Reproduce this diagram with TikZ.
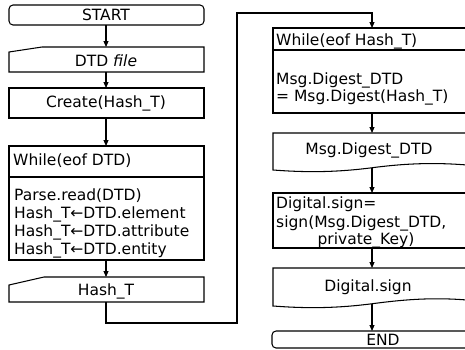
\documentclass[tikz,border=0pt]{standalone}
\usepackage{fontspec}
\setmainfont{DejaVu Sans}
\usetikzlibrary{arrows.meta}
\begin{document}
\begin{tikzpicture}[x=1pt,y=-1pt,
  box/.style={draw=black,line width=1.05pt},
  flow/.style={draw=black,line width=1.05pt,-{Triangle[length=6pt,width=5pt]}},
  txt/.style={inner sep=0pt,font=\fontsize{15.5}{18}\selectfont},
  lbl/.style={txt,anchor=west}]
\useasboundingbox (0,0) rectangle (465,349);
% left column
\draw[box,rounded corners=4pt] (9,5) rectangle (204,25);
\node[txt] (start) at (106,15) {START};
\coordinate (startb) at (106,25);

\draw[box] (9,72) -- (9,52) -- (42,47) -- (204,47) -- (204,72) -- cycle;
\node[txt] (dtd) at (106,61) {DTD \textit{file}};
\coordinate (dtdt) at (106,47);
\coordinate (dtdb) at (106,72);

\draw[box] (9,88) rectangle (204,118);
\node[txt] (create) at (106,103) {Create(Hash\_T)};
\coordinate (createt) at (106,88);
\coordinate (createb) at (106,118);

\draw[box] (9,146) rectangle (204,260);
\draw[box] (9,177) -- (204,177);
\node[lbl] (w1) at (13,161) {While(eof DTD)};
\node[lbl] (b1) at (14,196) {Parse.read(DTD)};
\node[lbl] (b2) at (14,214) {Hash\_T←DTD.element};
\node[lbl] (b3) at (14,232) {Hash\_T←DTD.attribute};
\node[lbl] (b4) at (14,250) {Hash\_T←DTD.entity};
\coordinate (w1t) at (106,146);
\coordinate (w1b) at (106,260);

\draw[box] (9,302) -- (9,285) -- (44,277) -- (204,277) -- (204,302) -- cycle;
\node[txt] (hash) at (106,291) {Hash\_T};
\coordinate (hasht) at (106,277);
\coordinate (hashb) at (106,302);

% right column
\draw[box] (273,28) rectangle (467,113);
\draw[box] (273,50) -- (467,50);
\node[lbl] (w2) at (276,41) {While(eof Hash\_T)};
\node[lbl] (m1) at (276,80) {Msg.Digest\_DTD};
\node[lbl] (m2) at (276,97) {= Msg.Digest(Hash\_T)};
\coordinate (w2t) at (372,28);
\coordinate (w2b) at (372,113);

\draw[box] (273,133) -- (467,133) -- (467,165) .. controls (430,162) and (400,164) .. (370,168) .. controls (330,173) and (300,172) .. (273,170) -- cycle;
\node[txt] (md) at (369,150) {Msg.Digest\_DTD};
\coordinate (mdt) at (372,133);
\coordinate (mdb) at (372,168);

\draw[box] (273,193) rectangle (467,248);
\node[lbl] (s1) at (276,204) {Digital.sign=};
\node[lbl] (s2) at (276,223) {sign(Msg.Digest\_DTD,};
\node[txt] (s3) at (366,240) {private\_Key)};
\coordinate (sgt) at (372,193);
\coordinate (sgb) at (372,248);

\draw[box] (273,268) -- (467,268) -- (467,300) .. controls (430,297) and (400,300) .. (370,304) .. controls (330,309) and (300,308) .. (273,306) -- cycle;
\node[txt] (ds) at (368,287) {Digital.sign};
\coordinate (dst) at (372,268);
\coordinate (dsb) at (372,304);

\draw[box,rounded corners=4pt] (272,331) rectangle (490,348);
\node[txt] (end) at (383,339.5) {END};
\coordinate (endt) at (372,331);

% connectors
\draw[flow] (startb) -- (dtdt);
\draw[flow] (dtdb) -- (createt);
\draw[flow] (createb) -- (w1t);
\draw[flow] (w1b) -- (hasht);
\coordinate (c1) at (106,323);
\coordinate (c2) at (237,323);
\coordinate (c3) at (237,13);
\coordinate (c4) at (372,13);
\draw[flow] (hashb) -- (c1) -- (c2) -- (c3) -- (c4) -- (w2t);
\draw[flow] (w2b) -- (mdt);
\draw[flow] (mdb) -- (sgt);
\draw[flow] (sgb) -- (dst);
\draw[flow] (dsb) -- (endt);
\end{tikzpicture}
\end{document}
